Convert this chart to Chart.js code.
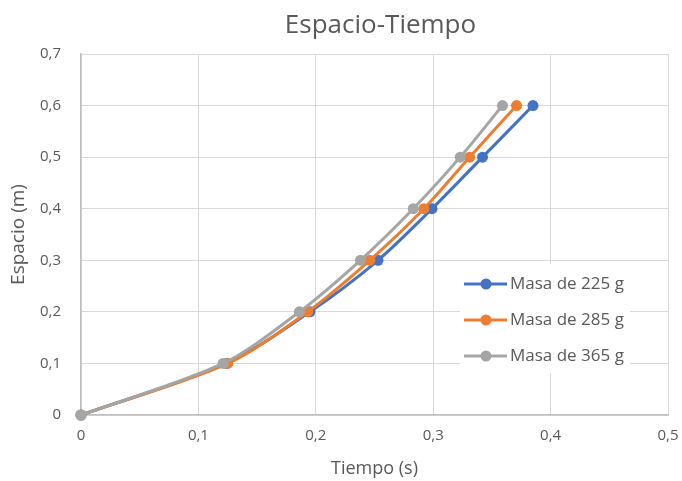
<!DOCTYPE html>
<html>
<head>
<meta charset="utf-8">
<script src="https://cdn.jsdelivr.net/npm/chart.js@4.4.1/dist/chart.umd.min.js"></script>
<style>
html,body{margin:0;padding:0;background:#fff;}
#wrap{width:682px;height:481px;position:relative;}
</style>
</head>
<body>
<div id="wrap"><canvas id="c" width="682" height="481"></canvas></div>
<script>
const espacio = [0, 0.1, 0.2, 0.3, 0.4, 0.5, 0.6];
const tiempo225 = [0, 0.124, 0.195, 0.253, 0.299, 0.342, 0.385];
const tiempo285 = [0, 0.125, 0.193, 0.246, 0.292, 0.331, 0.371];
const tiempo365 = [0, 0.121, 0.186, 0.238, 0.283, 0.323, 0.359];
const seriesNames = ['Masa de 225 g', 'Masa de 285 g', 'Masa de 365 g'];
const seriesColors = ['#4472C4', '#ED7D31', '#A5A5A5'];
const chartTitle = 'Espacio-Tiempo';

const FONT = '"Open Sans", sans-serif';
const TXT = '#595959';

function pts(t){ return t.map((x,i)=>({x:x, y:espacio[i]})); }
function fmt(v){ const r = Math.round(v*10)/10; return r===0 ? '0' : r.toFixed(1).replace('.', ','); }

const allTimes = [tiempo225, tiempo285, tiempo365];
const datasets = allTimes.map((t,i)=>({
  label: seriesNames[i],
  data: pts(t),
  borderColor: seriesColors[i],
  backgroundColor: seriesColors[i],
  borderWidth: 3,
  pointRadius: 5.5,
  pointHoverRadius: 5.5,
  pointBorderWidth: 0,
  showLine: true,
  tension: 0.3,
  clip: false,
  order: 3 - i
}));

const decorPlugin = {
  id: 'decor',
  afterDatasetsDraw(chart){
    const ctx = chart.ctx;
    ctx.save();
    // title
    ctx.fillStyle = TXT;
    ctx.font = '26px ' + FONT;
    ctx.textAlign = 'center';
    ctx.textBaseline = 'alphabetic';
    ctx.fillText(chartTitle, 380.5, 33);
    // legend
    ctx.fillStyle = '#ffffff';
    ctx.fillRect(460, 264, 170, 109);
    const ys = [284, 320, 356];
    ctx.font = '17px ' + FONT;
    ctx.textBaseline = 'middle';
    ctx.textAlign = 'left';
    chart.data.datasets.forEach((ds,i)=>{
      const y = ys[i];
      ctx.strokeStyle = ds.borderColor;
      ctx.lineWidth = 3;
      ctx.beginPath(); ctx.moveTo(464, y); ctx.lineTo(507, y); ctx.stroke();
      ctx.fillStyle = ds.borderColor;
      ctx.beginPath(); ctx.arc(486, y, 5.5, 0, Math.PI*2); ctx.fill();
      ctx.fillStyle = TXT;
      ctx.fillText(ds.label, 510, y);
    });
    ctx.restore();
  }
};

new Chart(document.getElementById('c'), {
  type: 'scatter',
  data: { datasets },
  plugins: [decorPlugin],
  options: {
    responsive: false,
    animation: false,
    layout: { padding: { left: 0, right: 0, top: 54, bottom: 0 } },
    plugins: {
      legend: { display: false },
      tooltip: { enabled: false },
      title: { display: false }
    },
    scales: {
      x: {
        type: 'linear',
        min: 0, max: 0.5,
        ticks: { stepSize: 0.1, color: TXT, font: { family: FONT, size: 15 }, padding: 12, callback: fmt },
        grid: { color: '#d9d9d9', lineWidth: 1, drawTicks: false },
        border: { color: '#bfbfbf', width: 1.5 },
        title: { display: true, text: 'Tiempo (s)', color: TXT, font: { family: FONT, size: 18 }, padding: { top: 4, bottom: 1 } },
        afterFit(s){ s.height = 66; s.paddingRight = 14; s.paddingLeft = 0; }
      },
      y: {
        type: 'linear',
        min: 0, max: 0.7,
        ticks: { stepSize: 0.1, color: TXT, font: { family: FONT, size: 15 }, padding: 20, callback: fmt },
        grid: { color: '#d9d9d9', lineWidth: 1, drawTicks: false },
        border: { color: '#bfbfbf', width: 1.5 },
        title: { display: true, text: 'Espacio (m)', color: TXT, font: { family: FONT, size: 19 }, padding: { top: 7, bottom: 4 } },
        afterFit(s){ s.width = 81; s.paddingTop = 0; s.paddingBottom = 0; }
      }
    }
  }
});
</script>
</body>
</html>
